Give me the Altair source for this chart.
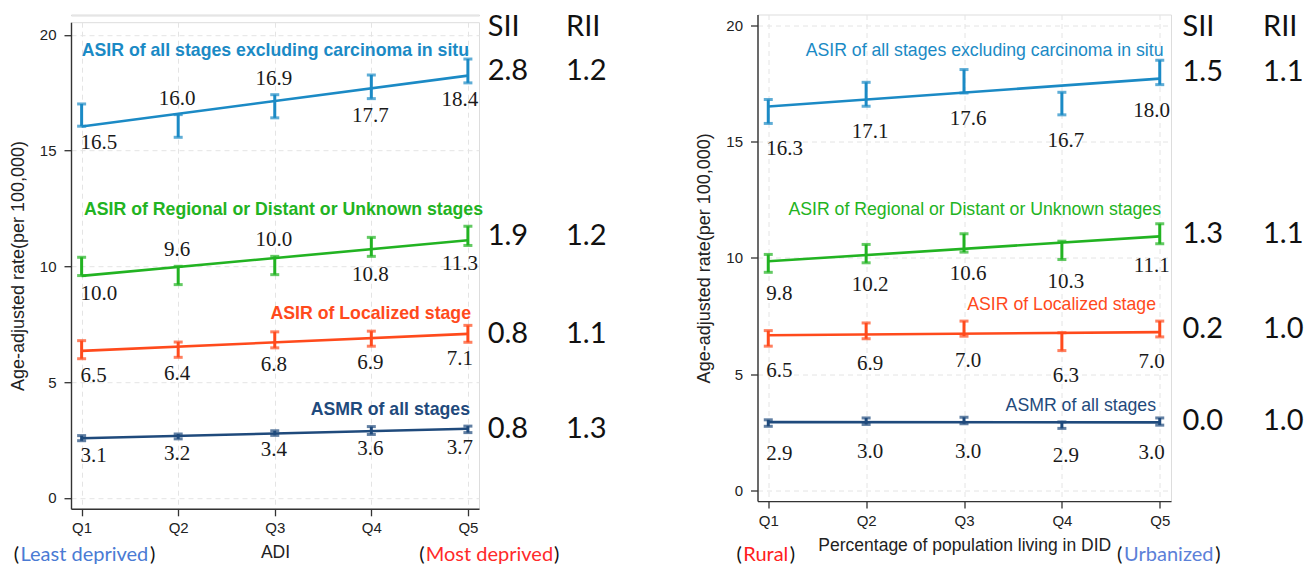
import altair as alt
import pandas as pd

# ---------------- data ----------------
Q = [1, 2, 3, 4, 5]
SERIES = ["all", "rdu", "loc", "asmr"]
SERIES_TITLES = [
    "ASIR of all stages excluding carcinoma in situ",
    "ASIR of Regional or Distant or Unknown stages",
    "ASIR of Localized stage",
    "ASMR of all stages",
]
COLORS = ["#1b8ac5", "#22b322", "#ff4a1c", "#1f4a7c"]

# Panel 1: ADI quintiles (point estimate, CI low, CI high, printed label)
ADI_ALL = [16.53, 16.06, 16.91, 17.75, 18.43]
ADI_ALL_LO = [16.05, 15.57, 16.41, 17.24, 17.92]
ADI_ALL_HI = [17.01, 16.55, 17.41, 18.26, 18.95]
ADI_ALL_LBL = ["16.5", "16.0", "16.9", "17.7", "18.4"]

ADI_RDU = [10.0, 9.6, 10.04, 10.84, 11.3]
ADI_RDU_LO = [9.6, 9.21, 9.64, 10.43, 10.9]
ADI_RDU_HI = [10.39, 10.0, 10.43, 11.25, 11.73]
ADI_RDU_LBL = ["10.0", "9.6", "10.0", "10.8", "11.3"]

ADI_LOC = [6.4, 6.4, 6.83, 6.87, 7.08]
ADI_LOC_LO = [6.01, 6.07, 6.48, 6.55, 6.72]
ADI_LOC_HI = [6.79, 6.73, 7.17, 7.2, 7.45]
ADI_LOC_LBL = ["6.5", "6.4", "6.8", "6.9", "7.1"]

ADI_ASMR = [2.58, 2.65, 2.8, 2.91, 2.96]
ADI_ASMR_LO = [2.47, 2.55, 2.7, 2.74, 2.82]
ADI_ASMR_HI = [2.69, 2.76, 2.9, 3.08, 3.1]
ADI_ASMR_LBL = ["3.1", "3.2", "3.4", "3.6", "3.7"]

ADI_SII = ["2.8", "1.9", "0.8", "0.8"]
ADI_RII = ["1.2", "1.2", "1.1", "1.3"]

# Panel 2: DID quintiles
DID_ALL = [16.3, 17.05, 17.6, 16.65, 18.0]
DID_ALL_LO = [15.79, 16.53, 17.1, 16.16, 17.46]
DID_ALL_HI = [16.82, 17.56, 18.11, 17.13, 18.51]
DID_ALL_LBL = ["16.3", "17.1", "17.6", "16.7", "18.0"]

DID_RDU = [9.77, 10.18, 10.64, 10.32, 11.04]
DID_RDU_LO = [9.38, 9.79, 10.25, 9.93, 10.61]
DID_RDU_HI = [10.15, 10.58, 11.04, 10.72, 11.47]
DID_RDU_LBL = ["9.8", "10.2", "10.6", "10.3", "11.1"]

DID_LOC = [6.54, 6.86, 6.95, 6.4, 6.94]
DID_LOC_LO = [6.2, 6.52, 6.63, 6.01, 6.6]
DID_LOC_HI = [6.87, 7.2, 7.28, 6.78, 7.28]
DID_LOC_LBL = ["6.5", "6.9", "7.0", "6.3", "7.0"]

DID_ASMR = [2.89, 2.97, 3.0, 2.8, 2.96]
DID_ASMR_LO = [2.75, 2.83, 2.86, 2.66, 2.8]
DID_ASMR_HI = [3.03, 3.11, 3.14, 2.94, 3.11]
DID_ASMR_LBL = ["2.9", "3.0", "3.0", "2.9", "3.0"]

DID_SII = ["1.5", "1.3", "0.2", "0.0"]
DID_RII = ["1.1", "1.1", "1.0", "1.0"]

Y_TITLE = "Age-adjusted rate(per 100,000)"

# ---------------- layout ----------------
PW, PH = 408, 486.6
YDOM_L = [-0.47, 20.54]
YDOM_R = [-0.47, 20.48]
XDOM = [0.89, 5.115]

# label side: a = above CI, b = below CI
ADI_SIDES = [list("baabb"), list("baabb"), list("bbbbb"), list("bbbbb")]
DID_SIDES = [list("bbbbb")] * 4

SERIF = "Liberation Serif"
SANS = "Liberation Sans"
CAL = "Lato"


def build_df(vals, los, his, lbls, sides, above_px, below_px, ydom):
    ppu = PH / (ydom[1] - ydom[0])
    rows = []
    for i, s in enumerate(SERIES):
        for j, q in enumerate(Q):
            if sides[i][j] == "a":
                ly = his[i][j] + above_px / ppu
            else:
                ly = los[i][j] - below_px[i] / ppu
            grp = "first" if j == 0 else ("last" if j == 4 else "mid")
            rows.append(dict(series=s, q=q, val=vals[i][j], lo=los[i][j],
                             hi=his[i][j], label=lbls[i][j], ly=ly, grp=grp))
    return pd.DataFrame(rows)


def one(text):
    return pd.DataFrame({"t": [text]})


def make_panel(df, sii, rii, yq5, cfg):
    xs = alt.Scale(domain=XDOM, nice=False, zero=False)
    ys = alt.Scale(domain=cfg["ydom"], nice=False, zero=False)
    axis_common = dict(grid=True, gridColor="#e4e4e4", gridDash=[5, 4], gridWidth=1,
                       domainColor="#333", domainWidth=1.4, tickColor="#333", tickSize=7,
                       tickWidth=1.3, labelFont=SANS, labelFontSize=15, labelColor="#222",
                       titleFont=SANS, titleFontWeight="normal", titleColor="#222")
    xaxis = alt.Axis(values=Q, labelExpr="'Q' + datum.value", title=cfg["xtitle"],
                     titleFontSize=17.5, labelPadding=5, titlePadding=8, **axis_common)
    yaxis = alt.Axis(values=[0, 5, 10, 15, 20], title=Y_TITLE, titleFontSize=18,
                     labelPadding=8, titlePadding=12, **axis_common)

    def X(f):
        return alt.X(f, type="quantitative", scale=xs, axis=xaxis)

    def Y(f):
        return alt.Y(f, type="quantitative", scale=ys, axis=yaxis)

    color = alt.Color("series:N", scale=alt.Scale(domain=SERIES, range=COLORS), legend=None)
    base = alt.Chart(df)

    layers = []
    layers.append(base.transform_regression("q", "val", groupby=["series"])
                  .mark_line(strokeWidth=2.6).encode(x=X("q"), y=Y("val"), color=color))
    layers.append(base.mark_rule(strokeWidth=3).encode(x=X("q"), y=Y("lo"), y2="hi", color=color))
    for f in ["lo", "hi"]:
        layers.append(base.mark_tick(orient="horizontal", size=9, thickness=3)
                      .encode(x=X("q"), y=Y(f), color=color))
    # value labels
    for grp, align, dx in [("first", "left", cfg["dx_first"]), ("mid", "center", cfg["dx_mid"]),
                           ("last", "center", cfg["dx_last"])]:
        layers.append(base.transform_filter(alt.datum.grp == grp)
                      .mark_text(font=SERIF, fontSize=21, color="#1a1a1a", align=align,
                                 baseline="middle", dx=dx)
                      .encode(x=X("q"), y=Y("ly"), text="label:N"))
    # series titles
    for i, t in enumerate(SERIES_TITLES):
        px, py = cfg["titles"][i]
        layers.append(alt.Chart(one(t)).mark_text(
            font=SANS, fontSize=17.7, fontWeight=cfg["title_weight"], color=COLORS[i],
            align="right", baseline="middle").encode(
            x=alt.value(px), y=alt.value(py), text="t:N"))
    # SII / RII
    sdf = pd.DataFrame({"series": SERIES, "sii": sii, "rii": rii, "yq5": yq5})
    for col, px in [("sii", cfg["sii_x"]), ("rii", cfg["rii_x"])]:
        layers.append(alt.Chart(sdf).mark_text(font=CAL, fontSize=29, color="#111",
                                               align="left", baseline="middle")
                      .encode(x=alt.value(px), y=Y("yq5"), text=f"{col}:N"))
    for t, px in [("SII", cfg["sii_x"]), ("RII", cfg["rii_x"])]:
        layers.append(alt.Chart(one(t)).mark_text(font=CAL, fontSize=29, color="#111",
                                                  align="left", baseline="middle")
                      .encode(x=alt.value(px), y=alt.value(cfg["head_y"]), text="t:N"))
    # bottom annotations: (word) with coloured word
    for word, wcol, cx, lp, rp in cfg["notes"]:
        y = cfg["note_y"]
        layers.append(alt.Chart(one("(")).mark_text(font=CAL, fontSize=20, color="#111",
                                                    align="right", baseline="middle")
                      .encode(x=alt.value(lp), y=alt.value(y), text="t:N"))
        layers.append(alt.Chart(one(word)).mark_text(font=CAL, fontSize=20, color=wcol,
                                                     align="center", baseline="middle")
                      .encode(x=alt.value(cx), y=alt.value(y), text="t:N"))
        layers.append(alt.Chart(one(")")).mark_text(font=CAL, fontSize=20, color="#111",
                                                    align="left", baseline="middle")
                      .encode(x=alt.value(rp), y=alt.value(y), text="t:N"))
    return alt.layer(*layers).properties(width=cfg["w"], height=PH)


left_df = build_df(
    [ADI_ALL, ADI_RDU, ADI_LOC, ADI_ASMR],
    [ADI_ALL_LO, ADI_RDU_LO, ADI_LOC_LO, ADI_ASMR_LO],
    [ADI_ALL_HI, ADI_RDU_HI, ADI_LOC_HI, ADI_ASMR_HI],
    [ADI_ALL_LBL, ADI_RDU_LBL, ADI_LOC_LBL, ADI_ASMR_LBL],
    ADI_SIDES, 16, [17, 18.5, 17, 15], YDOM_L)
right_df = build_df(
    [DID_ALL, DID_RDU, DID_LOC, DID_ASMR],
    [DID_ALL_LO, DID_RDU_LO, DID_LOC_LO, DID_ASMR_LO],
    [DID_ALL_HI, DID_RDU_HI, DID_LOC_HI, DID_ASMR_HI],
    [DID_ALL_LBL, DID_RDU_LBL, DID_LOC_LBL, DID_ASMR_LBL],
    DID_SIDES, 16, [26, 22, 25, 28], YDOM_R)

left_cfg = dict(
    w=PW, ydom=YDOM_L, xtitle="ADI", title_weight="bold",
    dx_first=-1, dx_mid=-1, dx_last=-8,
    titles=[(398, 29), (412, 187.3), (400, 291.6), (399, 387.3)],
    sii_x=416.7, rii_x=495, head_y=4.8, note_y=532.3,
    notes=[("Least deprived", "#4a7bd4", 13.4, -52, 79),
           ("Most deprived", "#ff2a2a", 418.4, 353.7, 483)],
)
right_cfg = dict(
    w=413.5, ydom=YDOM_R, xtitle="Percentage of population living in DID",
    title_weight="normal",
    dx_first=-2, dx_mid=4, dx_last=-8,
    titles=[(406, 36.7), (403.5, 195.7), (398.5, 290.7), (398.5, 391)],
    sii_x=425, rii_x=505.5, head_y=12.5, note_y=540,
    notes=[("Rural", "#ff2020", 8.3, -15.6, 32.2),
           ("Urbanized", "#5b80d8", 411.3, 364.9, 457.7)],
)

left = make_panel(left_df, ADI_SII, ADI_RII, [v[4] for v in [ADI_ALL, ADI_RDU, ADI_LOC, ADI_ASMR]], left_cfg)
right = make_panel(right_df, DID_SII, DID_RII, [v[4] for v in [DID_ALL, DID_RDU, DID_LOC, DID_ASMR]], right_cfg)

# small invisible spacer lowers the left panel relative to the right one
spacer = alt.Chart(pd.DataFrame({"z": [0]})).mark_point(opacity=0).encode(
    x=alt.value(0), y=alt.value(0)).properties(width=PW, height=1)
left_col = alt.vconcat(spacer, left, spacing=6.7, bounds="flush")

# the nested column is measured as ~6px wide in the flush grid, so the gap
# between the two plot areas is set directly
chart = alt.hconcat(left_col, right, spacing=686.5, bounds="flush").properties(
    padding={"left": 0, "top": 2.5, "right": 0, "bottom": 0}
).configure_view(stroke=None).configure(background="white")

chart.save("out.html", embed_options={"renderer": "svg", "actions": False})
